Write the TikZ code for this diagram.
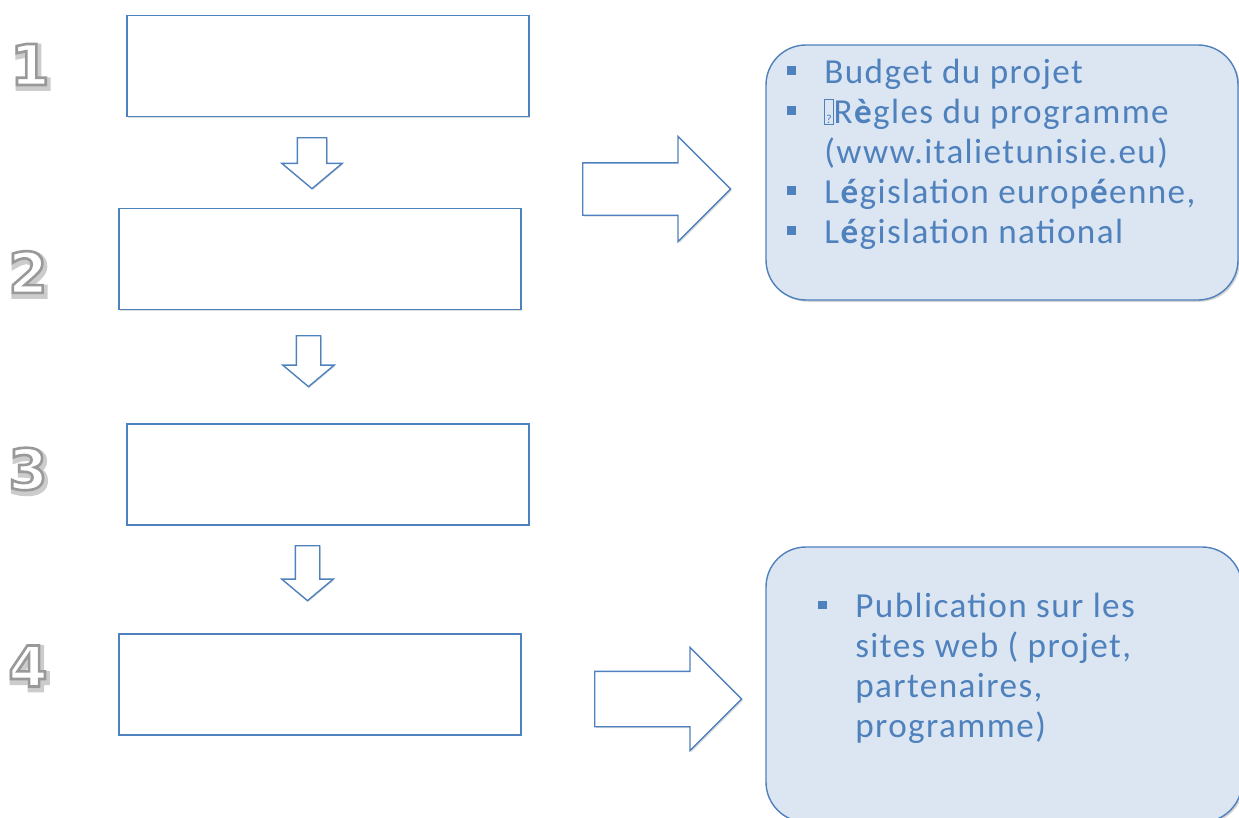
\documentclass[tikz,border=0pt]{standalone}
\usepackage{fontspec}
\setmainfont{Carlito}[LetterSpace=4]
\newfontfamily\digitfont{DejaVu Sans Bold}
\usepackage{xcolor}
\usepackage{tikz}
\usetikzlibrary{shapes.arrows,shadows,positioning}

\definecolor{offblue}{HTML}{4F81BD}
\definecolor{paleblue}{HTML}{DCE6F2}

\newcommand{\bulsq}{\makebox[0.74cm][l]{\color{offblue}\raisebox{0.17cm}{\rule{0.17cm}{0.17cm}}}}
\newcommand{\nogl}{{\fboxsep=0.6pt\fboxrule=0.4pt\fbox{\vphantom{R}\scriptsize ?}}}
% white digit, grey outline, soft shadow
\newcommand{\outlined}[1]{\special{pdf:literal direct 2 Tr 1.5 w 0.6 G}#1\special{pdf:literal direct 0 Tr}}
\newcommand{\shadowed}[1]{\special{pdf:literal direct 2 Tr 3.6 w 0.8 G}#1\special{pdf:literal direct 0 Tr}}

\begin{document}
\begin{tikzpicture}[
  stepbox/.style={rectangle, draw=offblue, line width=0.8pt, fill=white, inner sep=0pt,
    minimum width=8.04cm, minimum height=2.02cm,
    drop shadow={opacity=0.25, shadow xshift=0.8pt, shadow yshift=-0.8pt}},
  infobox/.style={rectangle, rounded corners=0.8cm, draw=offblue, line width=0.8pt, fill=paleblue,
    drop shadow={opacity=0.35, shadow xshift=1pt, shadow yshift=-1pt}},
  infotext/.style={anchor=north west, inner sep=0pt, align=left, text=offblue,
    font=\fontsize{20}{22.76}\selectfont},
  downarrow/.style={single arrow, draw=offblue, line width=0.8pt, fill=white, shape border rotate=270,
    anchor=tail, single arrow tip angle=100,
    drop shadow={opacity=0.25, shadow xshift=0.6pt, shadow yshift=-0.6pt}},
  rightarrow/.style={single arrow, draw=offblue, line width=0.8pt, fill=white,
    anchor=tail, single arrow tip angle=90,
    drop shadow={opacity=0.25, shadow xshift=0.8pt, shadow yshift=-0.8pt}},
  digit/.style={inner sep=0pt, text=white, font=\digitfont\fontsize{32}{32}\selectfont},
  digitshadow/.style={digit, text=black!22}
]
  \useasboundingbox (0,0) rectangle (24.78,-16.34);

  % step numbers
  \foreach \n/\x/\y in {1/0.60/-1.29, 2/0.56/-5.44, 3/0.56/-9.38, 4/0.56/-13.32} {
    \node[digitshadow] at ([shift={(1pt,-1.6pt)}] \x,\y) {\shadowed{\n}};
    \node[digit] (num\n) at (\x,\y) {\outlined{\n}};
  }

  % steps (left column)
  \node[stepbox] (s1) at (6.56,-1.32) {};
  \node[stepbox] (s2) at (6.40,-5.18) {};
  \node[stepbox] (s3) at (6.56,-9.49) {};
  \node[stepbox] (s4) at (6.40,-13.69) {};

  % arrows between steps
  \node[downarrow, inner sep=0.28cm, single arrow head extend=0.31cm, minimum height=1.02cm] (d1) at (6.24,-2.74) {};
  \node[downarrow, inner sep=0.23cm, single arrow head extend=0.27cm, minimum height=1.02cm] (d2) at (6.17,-6.70) {};
  \node[downarrow, inner sep=0.23cm, single arrow head extend=0.27cm, minimum height=1.10cm] (d3) at (6.15,-10.90) {};

  % arrows to the notes
  \node[rightarrow, inner sep=0.51cm, single arrow head extend=0.53cm, minimum height=2.96cm] (r1) at (11.64,-3.78) {};
  \node[rightarrow, inner sep=0.54cm, single arrow head extend=0.48cm, minimum height=2.94cm] (r2) at (11.88,-13.98) {};

  % notes
  \node[infobox, minimum width=9.44cm, minimum height=5.10cm] (n1) at (20.04,-3.45) {};
  \node[infobox, minimum width=9.52cm, minimum height=5.50cm] (n2) at (20.08,-13.69) {};

  \node[infotext] (t1) at (15.74,-1.17) {%
    \bulsq Budget du projet\\
    \bulsq \nogl R\textbf{è}gles du programme\\
    \hspace*{0.74cm}(www.italietunisie.eu)\\
    \bulsq L\textbf{é}gislation europ\textbf{é}enne,\\
    \bulsq L\textbf{é}gislation national};
  \node[infotext] (t2) at (16.36,-11.86) {%
    \bulsq Publication sur les\\
    \hspace*{0.74cm}sites web ( projet,\\
    \hspace*{0.74cm}partenaires,\\
    \hspace*{0.74cm}programme)};
\end{tikzpicture}
\end{document}
